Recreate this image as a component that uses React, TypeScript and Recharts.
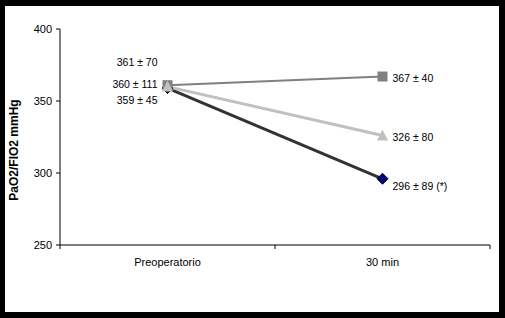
import React from 'react'
import { LineChart, Line, XAxis, YAxis, LabelList } from 'recharts'

// ---------------------------------------------------------------------------
// PaO2/FIO2 before surgery and at 30 min, three groups
// ---------------------------------------------------------------------------

const categories = ['Preoperatorio', '30 min']
const squareValues = [361, 367]
const triangleValues = [360, 326]
const diamondValues = [359, 296]
const squareLabels = ['361 ± 70', '367 ± 40']
const triangleLabels = ['360 ± 111', '326 ± 80']
const diamondLabels = ['359 ± 45', '296 ± 89 (*)']
const yTicks = [250, 300, 350, 400]

const W = 505
const H = 318
const MARGIN = { top: 29, right: 15, bottom: 43, left: 0 }
const Y_AXIS_W = 60
const HALF_BAND = (W - MARGIN.right - Y_AXIS_W) / categories.length / 2

const data = categories.map((name, i) => ({
    name,
    sq: squareValues[i],
    sqLabel: squareLabels[i],
    tri: triangleValues[i],
    triLabel: triangleLabels[i],
    dia: diamondValues[i],
    diaLabel: diamondLabels[i]
}))

const labelFont = "'Liberation Sans Narrow', 'Liberation Sans', Arial, sans-serif"
const axisFont = "'Liberation Sans', Arial, sans-serif"

function makeLabel(leftDy: number, rightDy: number) {
    return (props: any) => {
        const { x, y, value, index } = props
        const first = index === 0
        return (
            <text
                x={first ? x - 10 : x + 10}
                y={y + (first ? leftDy : rightDy)}
                textAnchor={first ? 'end' : 'start'}
                dominantBaseline="central"
                fontSize={10.5}
                fontFamily={labelFont}
                fill="#000"
            >
                {value}
            </text>
        )
    }
}

const SquareDot = (props: any) => {
    const { cx, cy, index } = props
    return <rect key={`sq-${index}`} x={cx - 5} y={cy - 5} width={10} height={10} fill="#808080" />
}

const TriangleDot = (props: any) => {
    const { cx, cy, index } = props
    return (
        <polygon
            key={`tri-${index}`}
            points={`${cx},${cy - 6} ${cx + 5.5},${cy + 5} ${cx - 5.5},${cy + 5}`}
            fill="#c0c0c0"
        />
    )
}

const DiamondDot = (props: any) => {
    const { cx, cy, index } = props
    return (
        <polygon
            key={`dia-${index}`}
            points={`${cx},${cy - 5.5} ${cx + 5.5},${cy} ${cx},${cy + 5.5} ${cx - 5.5},${cy}`}
            fill="#000080"
            stroke="#000"
            strokeWidth={1}
        />
    )
}

const XTick = (props: any) => {
    const { x, y, payload, index, visibleTicksCount } = props
    const axisY = y - 13
    const last = index === visibleTicksCount - 1
    return (
        <g>
            <line x1={x - HALF_BAND} x2={x - HALF_BAND} y1={axisY} y2={axisY + 4} stroke="#000" />
            {last && <line x1={x + HALF_BAND} x2={x + HALF_BAND} y1={axisY} y2={axisY + 4} stroke="#000" />}
            <text x={x} y={y} dy="0.71em" textAnchor="middle" fontSize={11} fontFamily={axisFont} fill="#000">
                {payload.value}
            </text>
        </g>
    )
}

const YLabel = () => (
    <text
        x={18}
        y={150}
        transform="rotate(-90, 18, 150)"
        textAnchor="middle"
        fontSize={12}
        fontWeight="bold"
        fontFamily={axisFont}
        fill="#000"
    >
        PaO2/FIO2 mmHg
    </text>
)

export default function App() {
    return (
        <div style={{ position: 'absolute', left: 0, top: 0, width: W, height: H, background: '#000' }}>
            <div style={{ position: 'absolute', left: 5, top: 6, width: 494, height: 306, background: '#fff' }} />
            <div style={{ position: 'absolute', left: 0, top: 0 }}>
                <LineChart width={W} height={H} data={data} margin={MARGIN}>
                    <XAxis
                        dataKey="name"
                        stroke="#000"
                        padding={{ left: HALF_BAND, right: HALF_BAND }}
                        tickLine={false}
                        tickSize={6}
                        tickMargin={7}
                        tick={<XTick />}
                    />
                    <YAxis
                        width={Y_AXIS_W}
                        domain={[250, 400]}
                        ticks={yTicks}
                        stroke="#000"
                        tickSize={4}
                        tickMargin={4}
                        tick={{ fontSize: 11, fontFamily: labelFont, fill: '#000' }}
                        label={<YLabel />}
                    />
                    <Line
                        dataKey="dia"
                        stroke="#333333"
                        strokeWidth={3}
                        dot={DiamondDot}
                        activeDot={false}
                        isAnimationActive={false}
                    >
                        <LabelList dataKey="diaLabel" content={makeLabel(12, 7)} />
                    </Line>
                    <Line
                        dataKey="sq"
                        stroke="#808080"
                        strokeWidth={2}
                        dot={SquareDot}
                        activeDot={false}
                        isAnimationActive={false}
                    >
                        <LabelList dataKey="sqLabel" content={makeLabel(-23, 1)} />
                    </Line>
                    <Line
                        dataKey="tri"
                        stroke="#c0c0c0"
                        strokeWidth={3}
                        dot={TriangleDot}
                        activeDot={false}
                        isAnimationActive={false}
                    >
                        <LabelList dataKey="triLabel" content={makeLabel(-3, 1)} />
                    </Line>
                </LineChart>
            </div>
        </div>
    )
}
